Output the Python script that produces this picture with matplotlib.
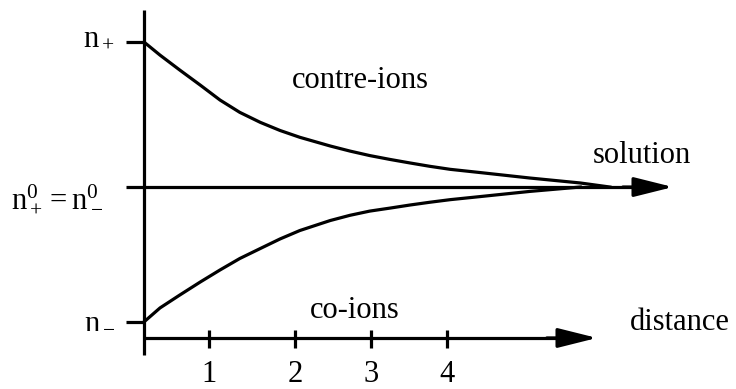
import matplotlib
matplotlib.use("Agg")
import matplotlib.pyplot as plt

plt.rcParams['font.family'] = ['Liberation Serif', 'DejaVu Serif']
plt.rcParams['mathtext.fontset'] = 'stix'

# --- data (distance in Debye lengths, concentration relative units) ---
contre_x = [0.0, 0.21, 0.47, 0.74, 1.0, 1.26, 1.53, 1.79, 2.05, 2.45, 2.71, 2.97,
            3.24, 3.5, 3.76, 4.03, 4.42, 5.08, 5.74, 6.13]
contre_y = [1.0, 0.91, 0.807, 0.703, 0.60, 0.515, 0.446, 0.390, 0.343, 0.283, 0.248,
            0.217, 0.190, 0.166, 0.143, 0.122, 0.100, 0.062, 0.028, 0.0]
co_x = [0.0, 0.21, 0.47, 0.74, 1.0, 1.26, 1.53, 1.79, 2.05, 2.45, 2.71, 2.97,
        3.24, 3.5, 3.76, 4.03, 4.42, 5.08, 5.74]
co_y = [-0.93, -0.834, -0.745, -0.655, -0.572, -0.493, -0.424, -0.358, -0.30, -0.231,
        -0.195, -0.166, -0.145, -0.124, -0.105, -0.087, -0.066, -0.030, 0.0]
tick_labels = ['1', '2', '3', '4']
tick_positions = [0.86, 1.99, 2.99, 3.99]
level_values = [1.0, -0.93]          # n+ and n-
level_labels = [r'$\mathregular{n_+}$', r'$\mathregular{n_-}$']

fig = plt.figure(figsize=(7.36, 3.89), dpi=100)
ax = fig.add_axes([0, 0, 1, 1])
ax.set_xlim(-1.895, 7.789)
ax.set_ylim(-1.393, 1.29)
ax.axis('off')

lw = 2.3
fs = 22
k = 'black'

# vertical axis
ax.plot([0, 0], [1.22, -1.159], color=k, lw=lw, solid_capstyle='butt')
# level ticks on the vertical axis
ax.hlines(level_values, -0.237, 0, color=k, lw=lw)

# center (bulk) line with arrow
ax.plot([-0.237, 6.5], [0, 0], color=k, lw=lw, solid_capstyle='butt')
ax.annotate('', xy=(6.96, 0), xytext=(6.3, 0),
            arrowprops=dict(arrowstyle='-|>,head_length=1.2,head_width=0.3',
                            mutation_scale=20, color=k, lw=lw,
                            shrinkA=0, shrinkB=0))

# distance axis with arrow
ax.plot([0, 5.6], [-1.041, -1.041], color=k, lw=lw, solid_capstyle='butt')
ax.annotate('', xy=(5.96, -1.041), xytext=(5.3, -1.041),
            arrowprops=dict(arrowstyle='-|>,head_length=1.2,head_width=0.3',
                            mutation_scale=20, color=k, lw=lw,
                            shrinkA=0, shrinkB=0))
ax.vlines(tick_positions, -0.986, -1.11, color=k, lw=lw)
for p, t in zip(tick_positions, tick_labels):
    ax.text(p, -1.345, t, ha='center', va='baseline', fontsize=fs)

# curves
ax.plot(contre_x, contre_y, color=k, lw=lw, solid_joinstyle='round')
ax.plot(co_x, co_y, color=k, lw=lw, solid_joinstyle='round')

# labels
ax.text(-0.38, 0.98, level_labels[0], ha='right', va='baseline', fontsize=fs)
ax.text(-0.38, -0.972, level_labels[1], ha='right', va='baseline', fontsize=fs)
ax.text(-0.54, -0.138, r'$\mathregular{n^0_+ = n^0_-}$', ha='right', va='baseline', fontsize=fs)
ax.text(1.947, 0.683, 'contre-ions', ha='left', va='baseline', fontsize=fs)
ax.text(5.91, 0.166, 'solution', ha='left', va='baseline', fontsize=fs)
ax.text(2.18, -0.903, 'co-ions', ha='left', va='baseline', fontsize=fs)
ax.text(6.39, -0.986, 'distance', ha='left', va='baseline', fontsize=fs)

fig.savefig('out.png', dpi=100)
